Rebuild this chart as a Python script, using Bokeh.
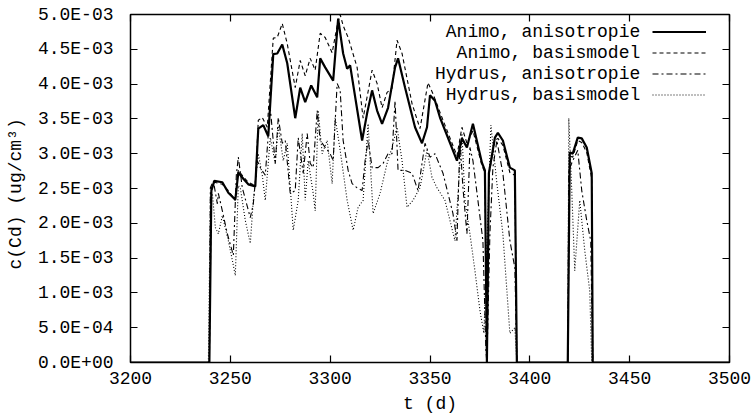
import numpy as np
from bokeh.plotting import figure
from bokeh.models import (Range1d, FixedTicker, CustomJSTickFormatter, LinearAxis,
                          Legend, LegendItem)
from bokeh.embed import file_html
from bokeh.resources import INLINE

# concentrations below are given in units of 1E-03 ug/cm3
UNIT = 1e-3

t_animo_aniso = [3200, 3239.5, 3240.5, 3242, 3246, 3249, 3252.5, 3254, 3256.5, 3259, 3262.5,
                 3264, 3266.5, 3269, 3271.5, 3273.5, 3276, 3278.5, 3282.5, 3285, 3287.5,
                 3290.5, 3293.5, 3295, 3297.5, 3301.5, 3304, 3306.5, 3308.5, 3310, 3316,
                 3318.5, 3321, 3323.5, 3326, 3329, 3332.5, 3334, 3337.5, 3342.5, 3346,
                 3348.5, 3350, 3352.5, 3355, 3363.5, 3366, 3368.5, 3371.5, 3376, 3377.5,
                 3378.5, 3379.5, 3382.5, 3384, 3386.5, 3390, 3392.5, 3393.5, 3419, 3420,
                 3421.5, 3424, 3426, 3428.5, 3431, 3431.5, 3500]
c_animo_aniso = [0, 0, 2.47, 2.61, 2.59, 2.44, 2.34, 2.73, 2.64, 2.56, 2.53,
                 3.36, 3.41, 3.25, 4.43, 4.44, 4.57, 4.30, 3.51, 3.95, 3.74,
                 3.98, 3.81, 4.37, 4.24, 4.05, 4.94, 4.44, 4.22, 4.27, 3.19,
                 3.58, 3.91, 3.62, 3.43, 3.66, 4.24, 4.37, 3.95, 3.38, 3.15,
                 3.38, 3.84, 3.76, 3.52, 2.90, 3.22, 3.09, 3.43, 2.87, 2.76,
                 0, 2.72, 3.23, 3.30, 3.19, 2.80, 2.76, 0, 0, 3.02,
                 3.00, 3.23, 3.22, 3.09, 2.72, 0, 0]

t_animo_basis = [3200, 3239.5, 3240.5, 3242, 3246, 3249, 3252.5, 3254, 3256.5, 3259, 3262.5,
                 3264, 3266, 3268.5, 3271.5, 3273.5, 3276, 3278.5, 3282.5, 3285, 3287.5,
                 3290, 3292.5, 3295, 3297.5, 3301, 3303.5, 3305, 3306.5, 3309, 3313.5,
                 3316.5, 3321, 3323.5, 3326, 3328.5, 3331, 3333.5, 3336, 3341, 3345,
                 3349, 3351.5, 3356, 3363.5, 3366, 3368.5, 3371.5, 3376, 3377.5, 3378.5,
                 3379.5, 3382.5, 3384, 3386.5, 3390, 3392.5, 3393.5, 3419, 3420, 3421.5,
                 3424, 3426, 3428.5, 3431, 3431.5, 3500]
c_animo_basis = [0, 0, 2.50, 2.59, 2.56, 2.47, 2.33, 2.76, 2.67, 2.59, 2.54,
                 3.48, 3.52, 3.38, 4.66, 4.67, 4.87, 4.58, 3.95, 4.34, 4.12,
                 4.37, 4.20, 4.73, 4.67, 4.45, 4.84, 5.00, 4.84, 4.67, 4.24,
                 3.51, 4.20, 4.01, 3.66, 3.88, 3.94, 4.63, 4.44, 3.72, 3.36,
                 4.02, 3.86, 3.52, 2.97, 3.38, 3.15, 3.33, 2.83, 2.73, 0,
                 2.69, 3.19, 3.22, 3.12, 2.73, 2.69, 0, 0, 2.97, 2.95,
                 3.19, 3.16, 3.02, 2.64, 0, 0]

t_hydrus_aniso = [3200, 3239.5, 3240, 3241.5, 3243.5, 3244, 3246, 3248.5, 3251.5, 3253, 3254,
                  3256, 3260, 3261.5, 3263.5, 3265, 3267.5, 3270, 3272.5, 3274, 3276,
                  3277.5, 3280, 3282.5, 3284, 3286.5, 3288.5, 3290, 3291.5, 3293.5, 3295,
                  3297.5, 3300, 3301.5, 3303.5, 3305, 3306.5, 3309, 3311, 3313.5, 3316,
                  3317.5, 3319, 3321, 3324, 3326.5, 3329, 3331, 3332.5, 3334, 3337.5,
                  3341, 3344, 3347.5, 3350, 3352.5, 3356.5, 3361.5, 3363.5, 3365, 3366.5,
                  3368.5, 3370, 3371.5, 3374, 3376.5, 3378, 3378.5, 3380, 3381.5, 3383.5,
                  3385, 3386.5, 3390, 3392.5, 3393.5, 3419, 3419.5, 3421.5, 3424, 3426,
                  3428.5, 3430.5, 3431.5, 3500]
c_hydrus_aniso = [0, 0, 2.51, 2.61, 2.28, 2.43, 2.18, 1.85, 1.54, 2.69, 2.95,
                  2.51, 2.08, 2.28, 2.90, 2.80, 2.69, 3.66, 2.86, 3.52, 3.15,
                  3.19, 2.43, 2.47, 3.23, 2.72, 3.29, 2.86, 2.80, 3.62, 3.19,
                  3.09, 3.00, 2.90, 4.01, 3.91, 3.19, 2.76, 2.57, 2.51, 2.47,
                  2.90, 3.19, 2.80, 2.80, 2.86, 3.00, 3.00, 3.76, 2.76, 2.76,
                  2.72, 2.47, 3.15, 2.95, 3.00, 2.72, 2.14, 1.75, 3.19, 2.51,
                  1.85, 3.09, 2.90, 2.33, 1.75, 0.17, 0, 1.85, 2.80, 3.19,
                  2.95, 2.72, 1.75, 1.36, 0, 0, 2.76, 2.90, 3.05, 2.47,
                  2.04, 1.75, 0, 0]

t_hydrus_basis = [3200, 3239, 3240, 3241, 3242.5, 3244, 3246, 3249, 3251, 3252.5, 3254,
                  3255, 3257.5, 3260, 3261.5, 3264, 3266, 3267.5, 3270, 3272.5, 3274,
                  3276.5, 3278.5, 3281.5, 3284, 3286, 3287.5, 3289, 3291.5, 3292.5, 3294,
                  3296, 3298.5, 3301, 3302.5, 3305, 3308.5, 3311.5, 3314, 3316.5, 3319,
                  3321.5, 3325, 3328.5, 3331, 3333.5, 3336, 3338.5, 3341.5, 3345, 3348.5,
                  3351, 3353.5, 3357.5, 3362.5, 3366, 3367.5, 3370, 3372.5, 3375, 3377,
                  3380.5, 3383.5, 3386.5, 3390, 3392.5, 3393.5, 3419, 3419.5, 3421, 3422.5,
                  3425, 3427.5, 3430, 3431, 3500]
c_hydrus_basis = [0, 0, 2.40, 2.43, 1.94, 1.85, 2.11, 1.75, 1.47, 1.25, 2.54,
                  2.51, 2.04, 1.71, 2.33, 3.00, 2.69, 2.33, 3.23, 2.86, 3.40,
                  2.90, 3.15, 1.90, 2.33, 3.29, 2.33, 2.90, 2.43, 2.18, 3.62,
                  3.00, 3.19, 2.57, 3.52, 3.05, 2.33, 1.90, 2.23, 2.33, 3.43,
                  2.14, 2.43, 2.86, 3.09, 3.38, 2.90, 2.23, 2.33, 2.51, 3.05,
                  2.66, 2.51, 2.33, 1.75, 3.29, 2.33, 1.85, 1.32, 0.75, 0.42,
                  3.41, 2.57, 1.85, 0.42, 0.50, 0, 0, 3.51, 2.47, 1.32,
                  2.33, 1.61, 1.03, 0, 0]

x_ticks = [3200, 3250, 3300, 3350, 3400, 3450, 3500]
y_ticks = [0.0, 0.0005, 0.001, 0.0015, 0.002, 0.0025, 0.003, 0.0035, 0.004, 0.0045, 0.005]

labels = ["Animo, anisotropie", "Animo, basismodel", "Hydrus, anisotropie", "Hydrus, basismodel"]

FONT = "Liberation Mono"
FS = "18px"

p = figure(width=751, height=420, x_range=Range1d(3200, 3500), y_range=Range1d(0, 0.005),
           output_backend="svg", toolbar_location=None,
           min_border_left=130, min_border_right=22, min_border_top=14, min_border_bottom=58)
p.xgrid.visible = False
p.ygrid.visible = False
p.outline_line_color = "black"
p.outline_line_width = 1.5
p.background_fill_color = "white"
p.border_fill_color = "white"

fmt_js = """
const s = tick.toExponential(1);
const parts = s.split('e');
const n = parseInt(parts[1]);
const a = Math.abs(n);
return parts[0] + 'E' + (n < 0 ? '-' : '+') + (a < 10 ? '0' : '') + a;
"""

for ax in p.xaxis:
    ax.ticker = FixedTicker(ticks=x_ticks)
for ax in p.yaxis:
    ax.ticker = FixedTicker(ticks=y_ticks)
    ax.formatter = CustomJSTickFormatter(code=fmt_js)

def style_axis(ax):
    ax.axis_line_color = None
    ax.major_tick_in = 7
    ax.major_tick_out = 0
    ax.minor_tick_line_color = None
    ax.major_tick_line_color = "black"
    ax.major_tick_line_width = 1.2
    ax.major_label_text_font = FONT
    ax.major_label_text_font_size = FS
    ax.major_label_text_color = "black"
    ax.axis_label_text_font = FONT
    ax.axis_label_text_font_size = FS
    ax.axis_label_text_font_style = "normal"
    ax.axis_label_text_color = "black"

style_axis(p.xaxis[0])
style_axis(p.yaxis[0])
p.xaxis[0].axis_label = "t (d)"
p.xaxis[0].major_label_standoff = 9
p.xaxis[0].axis_label_standoff = 7
p.yaxis[0].axis_label = "c(Cd)  (ug/cm\u00b3)"
p.yaxis[0].major_label_standoff = 17
p.yaxis[0].axis_label_standoff = 9

top_ax = LinearAxis(ticker=FixedTicker(ticks=x_ticks), formatter=CustomJSTickFormatter(code="return '';"))
style_axis(top_ax)
top_ax.major_label_standoff = 0
right_ax = LinearAxis(ticker=FixedTicker(ticks=y_ticks), formatter=CustomJSTickFormatter(code="return '';"))
style_axis(right_ax)
right_ax.major_label_standoff = 0
p.add_layout(top_ax, "above")
p.add_layout(right_ax, "right")

series = [
    (t_animo_aniso, c_animo_aniso, dict(line_width=2.2, line_dash="solid")),
    (t_animo_basis, c_animo_basis, dict(line_width=1.1, line_dash="4 3")),
    (t_hydrus_aniso, c_hydrus_aniso, dict(line_width=1.1, line_dash="6 3 2 3")),
    (t_hydrus_basis, c_hydrus_basis, dict(line_width=1.1, line_dash="1 2")),
]
renderers = []
for t, c, st in series:
    r = p.line(np.array(t), np.array(c) * UNIT, line_color="black", **st)
    renderers.append(r)

# legend like gnuplot: right-aligned text (padded with no-break spaces in a
# monospace font) followed by the line samples
width = max(len(s) for s in labels)
padded = ["\u00a0" * (width - len(s)) + s for s in labels]

ROW = 21
common = dict(spacing=0, padding=0, margin=0, label_standoff=0,
              glyph_height=ROW, label_height=ROW,
              label_text_font=FONT, label_text_font_size="18px", label_text_color="black",
              label_text_line_height=1.0,
              background_fill_alpha=0, border_line_alpha=0)
leg_text = Legend(items=[LegendItem(label=lab, renderers=[r]) for lab, r in zip(padded, renderers)],
                  location=(305, 257), glyph_width=0, **common)
leg_glyph = Legend(items=[LegendItem(label="\u00a0", renderers=[r]) for r in renderers],
                   location=(522, 257), glyph_width=54, **common)
p.add_layout(leg_text)
p.add_layout(leg_glyph)

open("out.html", "w").write(file_html(p, INLINE))
